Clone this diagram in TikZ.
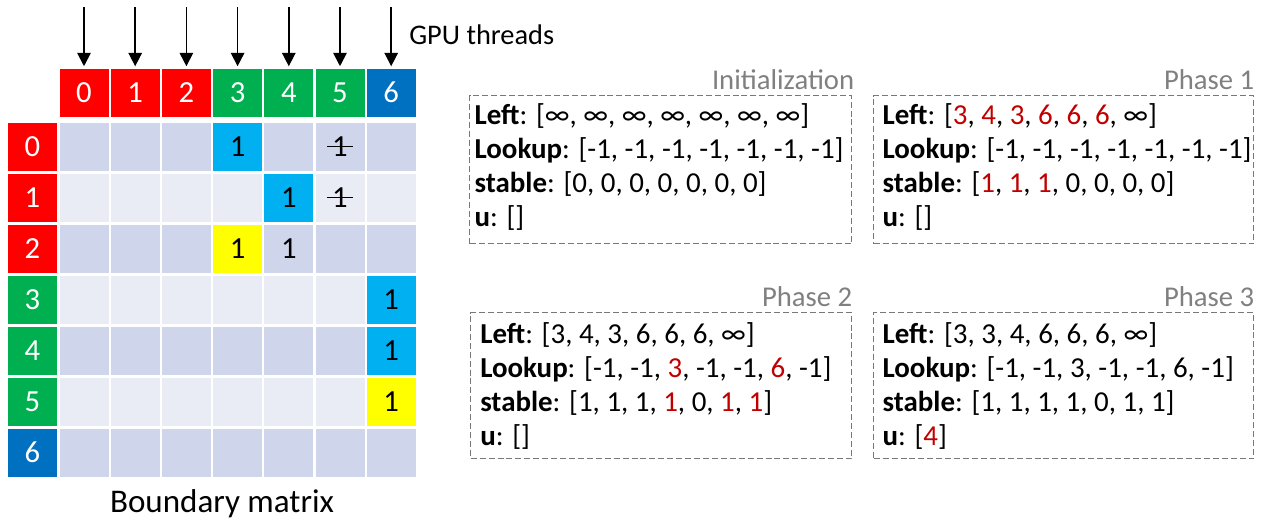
\documentclass[tikz,border=0pt]{standalone}
\usepackage{fontspec}
\setmainfont{Carlito}
\usetikzlibrary{arrows.meta}

\definecolor{hdred}{RGB}{255,0,0}
\definecolor{hdgreen}{RGB}{0,176,80}
\definecolor{hdblue}{RGB}{0,112,192}
\definecolor{celldark}{RGB}{207,213,234}
\definecolor{celllight}{RGB}{233,235,245}
\definecolor{hlcyan}{RGB}{0,176,240}
\definecolor{hlyellow}{RGB}{255,255,0}
\definecolor{chgred}{RGB}{192,0,0}
\definecolor{boxgray}{RGB}{120,120,120}
\definecolor{titlegray}{RGB}{128,128,128}

\newcommand{\chg}[1]{\textcolor{chgred}{#1}}
\newcommand{\xone}{\ooalign{1\cr\hidewidth\rule[0.3em]{0.85em}{0.05em}\hidewidth\cr}}

\tikzset{
  hdcell/.style={inner sep=0pt, minimum width=36.75pt, minimum height=36pt, text=white, font=\fontsize{23}{27}\selectfont},
  cell/.style={inner sep=0pt, minimum width=36.75pt, minimum height=36pt, font=\fontsize{23}{27}\selectfont},
  thread/.style={line width=1.3pt, -{Triangle[length=10pt,width=10pt]}, shorten >=1.5pt},
  phasebox/.style={draw=boxgray, line width=1.1pt, dash pattern=on 4.5pt off 2.2pt, inner sep=0pt, anchor=north west},
  phasetitle/.style={text=titlegray, inner sep=0pt, anchor=base east, font=\fontsize{21.5}{25}\selectfont},
  phasevals/.style={inner sep=0pt, anchor=north west, align=left, font=\fontsize{21.7}{25.5}\selectfont}
}

\begin{document}
\begin{tikzpicture}[x=0.75pt,y=0.75pt,yscale=-1,xscale=1]
\useasboundingbox (0,0) rectangle (1261,526);

%Shape: Header cells (columns and rows)
\foreach \i/\c in {0/hdred,1/hdred,2/hdred,3/hdgreen,4/hdgreen,5/hdgreen,6/hdblue} {
  \node[hdcell, fill=\c] (h\i) at ({84+51.2*\i},92.5) {\i};
  \node[hdcell, fill=\c] (r\i) at (32.5,{146.5+51*\i}) {\i};
}

%Shape: Matrix cells
\foreach \r in {0,...,6} {
  \foreach \c in {0,...,6} {
    \ifodd\r \def\cellcol{celllight}\else \def\cellcol{celldark}\fi
    \node[cell, fill=\cellcol] (m\r\c) at ({84+51.2*\c},{146.5+51*\r}) {};
  }
}

% Text Node: non-zero entries
\foreach \r/\c/\f/\v in {0/3/hlcyan/1, 0/5/celldark/\xone, 1/4/hlcyan/1, 1/5/celllight/\xone,
  2/3/hlyellow/1, 2/4/celldark/1, 3/6/hlcyan/1, 4/6/hlcyan/1, 5/6/hlyellow/1} {
  \node[cell, fill=\f] (v\r\c) at (m\r\c) {\v};
}

%Straight Lines: one thread per column
\foreach \i in {0,...,6} {
  \coordinate (t\i) at ({84+51.2*\i},7);
  \draw[thread] (t\i) -- (h\i.north);
}

% Text Node
\node[anchor=west, inner sep=0pt, font=\fontsize{21.3}{25}\selectfont] (gpu) at (409,35) {GPU threads};
% Text Node
\node[anchor=base, inner sep=0pt, font=\fontsize{24.8}{29}\selectfont] (bm) at (222,512) {Boundary matrix};

%Shape: Rectangle
\node[phasebox, minimum width=286.5pt, minimum height=111pt] (init) at (469,95) {};
\node[phasebox, minimum width=285pt, minimum height=111pt] (ph1) at (873,95) {};
\node[phasebox, minimum width=285.75pt, minimum height=109.5pt] (ph2) at (470,312) {};
\node[phasebox, minimum width=285pt, minimum height=109.5pt] (ph3) at (873,312) {};

% Text Node (y axis is flipped, so a negative yshift lifts)
\node[phasetitle] (initt) at ([yshift=-4.5pt,xshift=1.5pt]init.north east) {Initialization};
\node[phasetitle] (ph1t) at ([yshift=-4.5pt]ph1.north east) {Phase 1};
\node[phasetitle] (ph2t) at ([yshift=-4.5pt]ph2.north east) {Phase 2};
\node[phasetitle] (ph3t) at ([yshift=-4.5pt]ph3.north east) {Phase 3};

% Text Node
\node[phasevals] (initv) at ([xshift=4pt,yshift=6.5pt]init.north west) {%
\textbf{Left}: [∞, ∞, ∞, ∞, ∞, ∞, ∞]\\
\textbf{Lookup}: [-1, -1, -1, -1, -1, -1, -1]\\
\textbf{stable}: [0, 0, 0, 0, 0, 0, 0]\\
\textbf{u}: []};
% Text Node
\node[phasevals] (ph1v) at ([xshift=7pt,yshift=6.5pt]ph1.north west) {%
\textbf{Left}: [\chg{3}, \chg{4}, \chg{3}, \chg{6}, \chg{6}, \chg{6}, ∞]\\
\textbf{Lookup}: [-1, -1, -1, -1, -1, -1, -1]\\
\textbf{stable}: [\chg{1}, \chg{1}, \chg{1}, 0, 0, 0, 0]\\
\textbf{u}: []};
% Text Node
\node[phasevals] (ph2v) at ([xshift=7.5pt,yshift=8pt]ph2.north west) {%
\textbf{Left}: [3, 4, 3, 6, 6, 6, ∞]\\
\textbf{Lookup}: [-1, -1, \chg{3}, -1, -1, \chg{6}, -1]\\
\textbf{stable}: [1, 1, 1, \chg{1}, 0, \chg{1}, \chg{1}]\\
\textbf{u}: []};
% Text Node
\node[phasevals] (ph3v) at ([xshift=7pt,yshift=8pt]ph3.north west) {%
\textbf{Left}: [3, 3, 4, 6, 6, 6, ∞]\\
\textbf{Lookup}: [-1, -1, 3, -1, -1, 6, -1]\\
\textbf{stable}: [1, 1, 1, 1, 0, 1, 1]\\
\textbf{u}: [\chg{4}]};

\end{tikzpicture}
\end{document}
